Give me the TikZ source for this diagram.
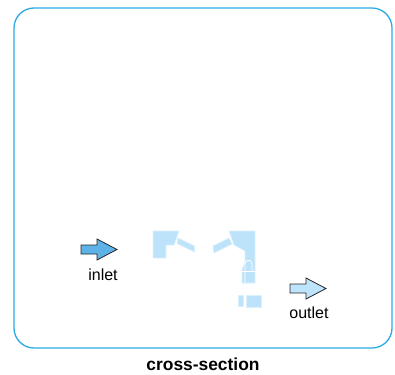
\documentclass[tikz,border=0pt]{standalone}
\usepackage{fontspec}
\setmainfont{Liberation Sans}
\usepackage{tikz}
\usetikzlibrary{positioning}
\definecolor{framecol}{HTML}{2AABE4}
\definecolor{inletcol}{HTML}{5DB3E8}
\definecolor{outletcol}{HTML}{BEE4FB}
\definecolor{partcol}{HTML}{BDE3FB}
\tikzset{
    %Define style for the outer frame
    frame/.style={
           draw=framecol,
           line width=1.3pt,
           rounded corners=20pt},
    %Define style for the pale parts
    part/.style={
           fill=partcol,
           draw=partcol!55,
           line width=0.8pt,
           line join=round},
    %Define style for the white lines across them
    gap/.style={
           draw=white,
           line width=0.8pt},
    %Define style for flow arrows
    flow/.style={
           draw=black!85,
           line width=0.8pt,
           line join=miter},
    lbl/.style={
           font=\fontsize{16}{18}\selectfont,
           inner sep=0pt},
}

\begin{document}
\begin{tikzpicture}[x=1pt,y=-1pt]
\useasboundingbox (0,0) rectangle (395,374);

 %frame
\draw[frame] (14,8) rectangle (392,348);

 %parts
\path[part] (153,231) -- (179,231) -- (174,245) -- (166,245) -- (166,258) -- (153,258) -- cycle;
\path[part] (178,238) -- (194.5,246) -- (194.5,252) -- (177,243.5) -- cycle;
\path[part] (229,231) -- (255,231) -- (255,283) -- (242,283) -- (242,270) -- (245,262) -- (245,251) -- (234,245) -- cycle;
\path[part] (213,246) -- (229,238) -- (232,244) -- (214,253) -- cycle;
\path[part] (238.5,295) -- (243,295) -- (243,306.5) -- (238.5,306.5) -- cycle;
\path[part] (246,295) -- (261,295) -- (261,307) -- (246,307) -- cycle;

 %white lines
\draw[gap] (245,283) -- (245,264) .. controls (245,260) and (251,258) .. (252,264) -- (252,271);
\draw[gap] (242,271) -- (255,271);

 %arrows
\draw[flow,fill=inletcol] (81,245) -- (97,245) -- (97,239) -- (117,249.5) -- (97,260) -- (97,254) -- (81,254) -- cycle;
\draw[flow,fill=outletcol] (290,284) -- (306,284) -- (306,278) -- (326,288.5) -- (306,299) -- (306,293) -- (290,293) -- cycle;

 %labels
\node[lbl] (inlet) at (103,275) {inlet};
\node[lbl] (outlet) at (309,313) {outlet};
\node[lbl,font=\fontsize{17.4}{20}\selectfont\bfseries] (section) at (203,364) {cross-section};
\end{tikzpicture}
\end{document}
